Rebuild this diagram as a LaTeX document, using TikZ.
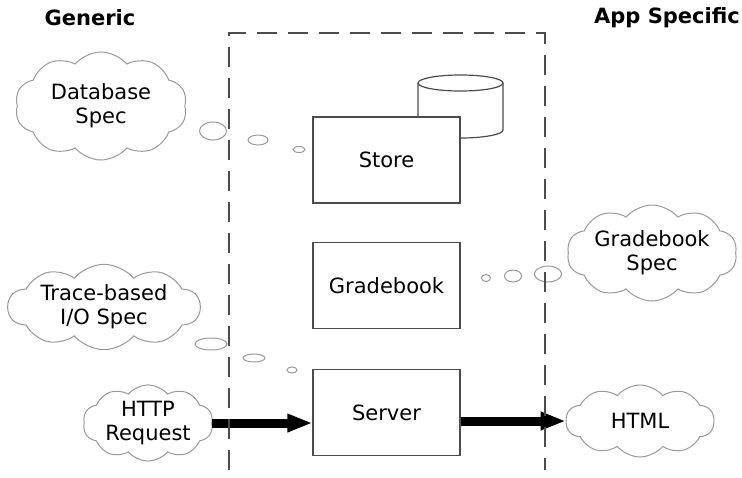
\documentclass[tikz,border=0pt]{standalone}
\usepackage{fontspec}
\setmainfont{DejaVu Sans}
\usetikzlibrary{shapes.geometric,shapes.symbols,arrows.meta,positioning}
\tikzstyle{comp}=[draw=black!70,fill=white,line width=0.6pt,minimum width=73.5pt,minimum height=43pt,inner sep=0pt]
\tikzstyle{spec}=[cloud,cloud puffs=10,cloud puff arc=100,cloud ignores aspect,draw=black!40,line width=0.5pt,align=center,inner sep=0pt]
\tikzstyle{puff}=[ellipse,draw=black!40,line width=0.5pt,inner sep=0pt]
\tikzstyle{flow}=[line width=4.5pt,-{Triangle[length=12.5pt,width=8.5pt]}]

\begin{document}
\begin{tikzpicture}[x=0.5pt,y=-0.5pt,font=\fontsize{10.5}{12}\selectfont]
	\useasboundingbox (0,0) rectangle (742,477);
	\node[font=\fontsize{10.5}{12}\selectfont\bfseries] (gen) at (90,18) {Generic};
	\node[font=\fontsize{10.5}{12}\selectfont\bfseries] (app) at (667,18) {App Specific};
	\draw[draw=black!70,line width=0.6pt] (418,83) -- (418,130) arc[start angle=180,end angle=360,x radius=21.25pt,y radius=4pt] -- (503,83);
	\draw[draw=black!70,line width=0.6pt] (460.5,83) ellipse[x radius=21.25pt,y radius=4pt];
	\node[comp] (store) at (386.5,160) {Store};
	\node[comp] (grade) at (386.5,285.5) {Gradebook};
	\node[comp] (server) at (386.5,412.5) {Server};
	\node[spec,minimum width=86pt,minimum height=54pt] (db) at (101,106) {Database\\Spec};
	\node[spec,minimum width=96pt,minimum height=42pt] (trace) at (104,307) {Trace-based\\I/O Spec};
	\node[spec,minimum width=65pt,minimum height=37pt] (http) at (148,423) {HTTP\\Request};
	\node[spec,minimum width=85pt,minimum height=48pt] (gspec) at (652,253) {Gradebook\\Spec};
	\node[spec,minimum width=74pt,minimum height=36pt] (html) at (640,421) {HTML};
	\node[puff,minimum width=13.5pt,minimum height=9pt] (db1) at (213,131) {};
	\node[puff,minimum width=10pt,minimum height=5pt] (db2) at (258,140) {};
	\node[puff,minimum width=6pt,minimum height=3pt] (db3) at (299,149.5) {};
	\node[puff,minimum width=16pt,minimum height=6pt] (tr1) at (211,344) {};
	\node[puff,minimum width=11pt,minimum height=4pt] (tr2) at (254,358) {};
	\node[puff,minimum width=5pt,minimum height=3pt] (tr3) at (292,370) {};
	\node[puff,minimum width=13.5pt,minimum height=8pt] (gs1) at (548,274) {};
	\node[puff,minimum width=8.5pt,minimum height=6pt] (gs2) at (513,276) {};
	\node[puff,minimum width=4.5pt,minimum height=3.5pt] (gs3) at (486,278) {};
	\draw[flow] (http.east) -- (http.east -| server.west);
	\draw[flow] (server.east |- html.west) -- (html.west);
	\draw[draw=black!70,line width=0.6pt,dash pattern=on 10pt off 5.5pt] (229,470) -- (229,33) -- (545,33) -- (545,470);
\end{tikzpicture}
\end{document}
